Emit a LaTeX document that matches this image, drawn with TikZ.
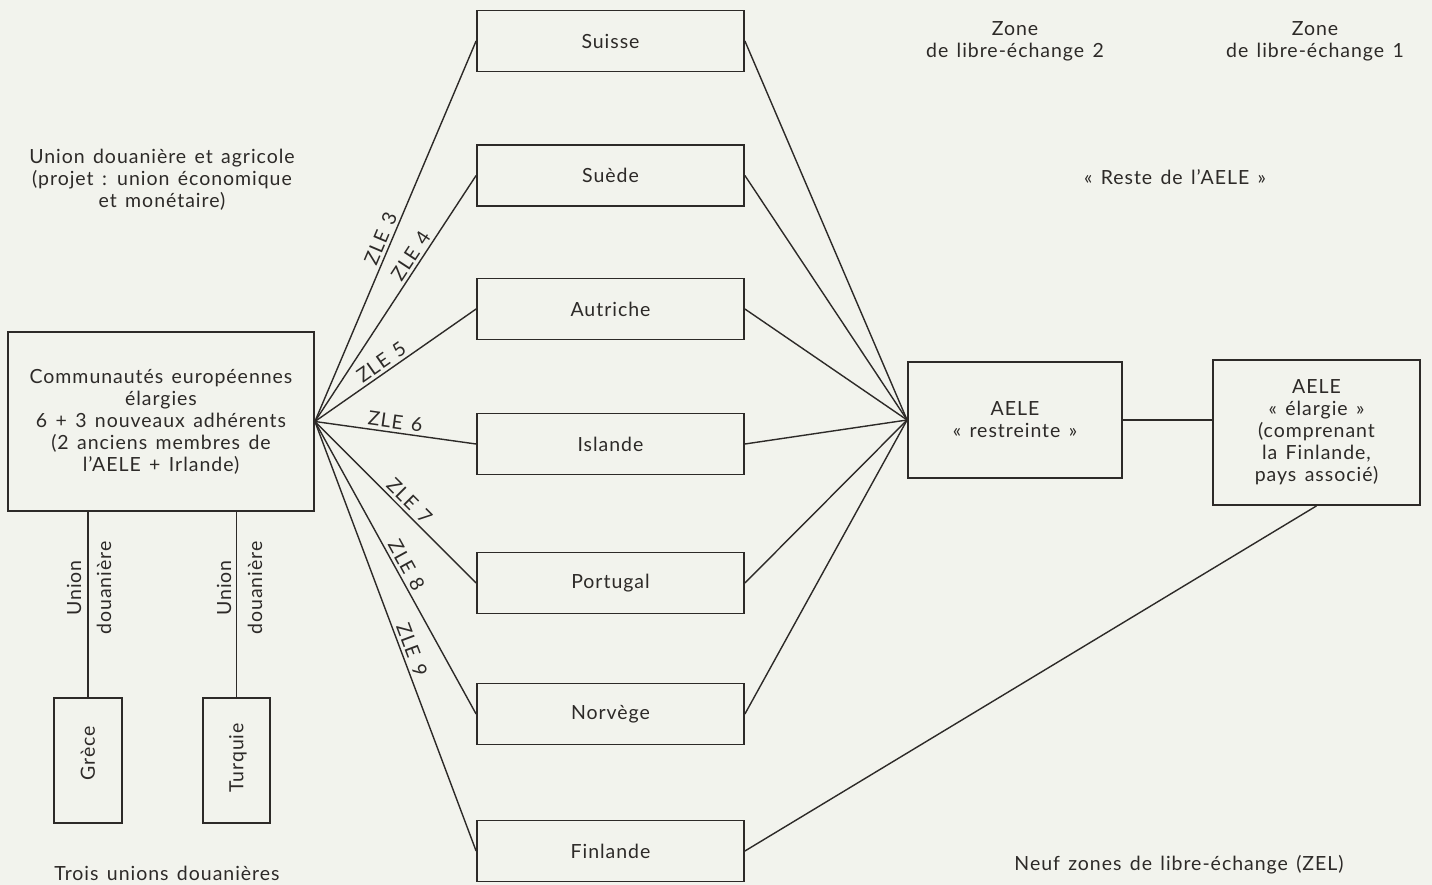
\documentclass[tikz,border=0pt]{standalone}
\usepackage{fontspec}
\setmainfont{Lato}[LetterSpace=5,WordSpace=1.4]
\definecolor{paper}{RGB}{242,243,237}
\definecolor{ink}{RGB}{45,42,40}
\begin{document}
\begin{tikzpicture}[x=1pt,y=-1pt,
  every node/.style={text=ink},
  base/.style={font=\fontsize{19.5}{22}\selectfont},
  cbox/.style={base, draw=ink, line width=1.8pt, minimum width=267pt, minimum height=61pt, inner sep=0pt},
  bbox/.style={base, draw=ink, line width=1.8pt, inner sep=0pt, align=center},
  txt/.style={base, align=center, inner sep=0pt},
  vtxt/.style={base, rotate=90, inner sep=0pt},
  link/.style={draw=ink, line width=1.4pt},
  zl/.style={base, above, sloped, inner sep=3pt}]
\useasboundingbox (0,0) rectangle (1432,885);
\fill[paper] (0,0) rectangle (1432,885);

% country boxes
\node[cbox] (suisse)   at (610.5,41)  {Suisse};
\node[cbox] (suede)    at (610.5,175.5) {Suède};
\node[cbox] (autriche) at (610.5,309) {Autriche};
\node[cbox] (islande)  at (610.5,444) {Islande};
\node[cbox] (portugal) at (610.5,583) {Portugal};
\node[cbox] (norvege)  at (610.5,714) {Norvège};
\node[cbox] (finlande) at (610.5,851) {Finlande};

% left side
\node[txt] (uda) at (162,180) {Union douanière et agricole\\(projet : union économique\\et monétaire)};
\node[bbox, minimum width=306pt, minimum height=179pt] (ce) at (161,421.5)
  {Communautés européennes\\élargies\\6 + 3 nouveaux adhérents\\(2 anciens membres de\\l'AELE + Irlande)};

\node[bbox, minimum width=68pt, minimum height=125pt] (grece) at (88,760.5) {};
\node[vtxt] (grecet) at (88,753) {Grèce};
\node[bbox, minimum width=67pt, minimum height=125pt] (turquie) at (236.5,760.5) {};
\node[vtxt] (turquiet) at (238,758) {Turquie};

\draw[link] (ce.south -| grece.north) -- (grece.north);
\draw[link] (ce.south -| turquie.north) -- (turquie.north);
\node[vtxt] (u1) at (74,588) {Union};
\node[vtxt] (d1) at (104,588) {douanière};
\node[vtxt] (u2) at (224,588) {Union};
\node[vtxt] (d2) at (255,588) {douanière};
\node[txt] (trois) at (167,873) {Trois unions douanières};

% AELE boxes
\node[bbox, minimum width=214pt, minimum height=116pt] (restr) at (1015,420)
  {AELE\\« restreinte »};
\node[bbox, minimum width=207pt, minimum height=145pt] (elarg) at (1316.5,432.5)
  {AELE\\« élargie »\\(comprenant\\la Finlande,\\pays associé)};
\draw[link] (restr.east) -- (elarg.west |- restr.east);

% headers
\node[txt] (z2) at (1015,41) {Zone\\de libre-échange 2};
\node[txt] (z1) at (1315,41) {Zone\\de libre-échange 1};
\node[txt] (reste) at (1175,177) {« Reste de l'AELE »};
\node[txt] (neuf) at (1179,865) {Neuf zones de libre-échange (ZEL)};

% fan from CE
\draw[link] (ce.east) -- node[zl, pos=0.47] {ZLE 3} (suisse.west);
\draw[link] (ce.east) -- node[zl, pos=0.65] {ZLE 4} (suede.west);
\draw[link] (ce.east) -- node[zl, pos=0.45] {ZLE 5} (autriche.west);
\draw[link] (ce.east) -- node[zl, pos=0.49] {ZLE 6} (islande.west);
\draw[link] (ce.east) -- node[zl, pos=0.54] {ZLE 7} (portugal.west);
\draw[link] (ce.east) -- node[zl, pos=0.51] {ZLE 8} (norvege.west);
\draw[link] (ce.east) -- node[zl, pos=0.54] {ZLE 9} (finlande.west);

% fan to AELE restreinte
\foreach \c in {suisse,suede,autriche,islande,portugal,norvege}
  \draw[link] (\c.east) -- (restr.west);
\draw[link] (finlande.east) -- (elarg.south);
\end{tikzpicture}
\end{document}
